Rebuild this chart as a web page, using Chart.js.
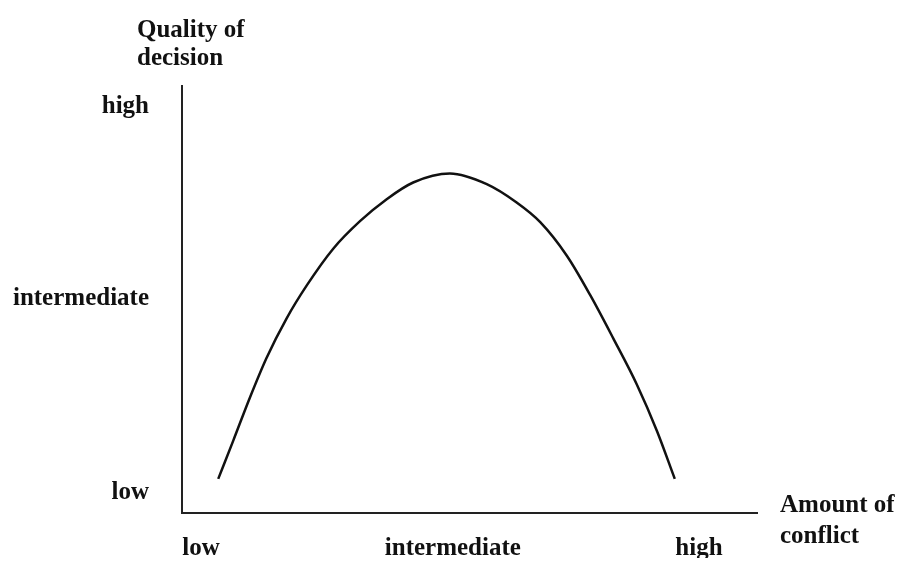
<!DOCTYPE html>
<html>
<head>
<meta charset="utf-8">
<title>Quality of decision vs amount of conflict</title>
<script src="https://cdn.jsdelivr.net/npm/chart.js@4/dist/chart.umd.min.js"></script>
<style>
  html, body { margin: 0; padding: 0; background: #fff; }
  #wrap { width: 903px; height: 561px; position: relative; }
</style>
</head>
<body>
<div id="wrap"><canvas id="chartConflict"></canvas></div>
<script>
// curve (0-100 scale on both axes)
const conflictX = [6.3, 8.9, 11.8, 14.7, 18.2, 21.7, 26.3, 31.0, 35.6, 40.2, 46.6, 53.0, 58.2, 62.3, 66.9, 71.0, 75.0, 79.1, 82.6, 85.7];
const qualityY = [8.0, 16.9, 27.0, 36.3, 45.6, 53.3, 61.9, 68.4, 73.5, 77.4, 79.5, 77.0, 72.7, 68.1, 60.3, 51.0, 40.9, 30.1, 19.2, 8.0];

const xTickValues = [3.3, 47.1, 89.9];
const xTickLabels = ["low", "intermediate", "high"];
const yTickValues = [4.7, 50.2, 95.3];
const yTickLabels = ["low", "intermediate", "high"];

const yTitle = ["Quality of", "decision"];
const xTitle = ["Amount of", "conflict"];

const FONT = "Liberation Serif";

(function () {
  const points = conflictX.map((x, i) => ({ x: x, y: qualityY[i] }));

  function fixedTicks(values) {
    return (scale) => {
      scale.ticks = values.map((v) => ({ value: v }));
    };
  }

  function labelFor(values, labels) {
    return (v) => {
      const idx = values.indexOf(v);
      return idx >= 0 ? labels[idx] : "";
    };
  }

  // axis titles sit outside the plot, drawn as text after the chart
  const axisTitles = {
    id: "axisTitles",
    afterDraw(chart) {
      const ctx = chart.ctx;
      ctx.save();
      ctx.font = "bold 25px '" + FONT + "'";
      ctx.fillStyle = "#111";
      ctx.textAlign = "left";
      ctx.textBaseline = "alphabetic";
      ctx.fillText(yTitle[0], 137, 37);
      ctx.fillText(yTitle[1], 137, 65);
      ctx.fillText(xTitle[0], 780, 512);
      ctx.fillText(xTitle[1], 780, 543);
      ctx.restore();
    },
  };

  new Chart(document.getElementById("chartConflict"), {
    type: "scatter",
    data: {
      datasets: [
        {
          data: points,
          showLine: true,
          borderColor: "#111",
          borderWidth: 2.5,
          pointRadius: 0,
          cubicInterpolationMode: "monotone",
          fill: false,
        },
      ],
    },
    options: {
      responsive: true,
      maintainAspectRatio: false,
      animation: false,
      layout: { padding: { top: 86, right: 146, left: 0, bottom: 0 } },
      plugins: { legend: { display: false }, tooltip: { enabled: false } },
      scales: {
        x: {
          type: "linear",
          min: 0,
          max: 100,
          afterBuildTicks: fixedTicks(xTickValues),
          afterFit: (s) => { s.height = 45; },
          grid: { display: false, drawTicks: false },
          border: { display: true, color: "#222", width: 2 },
          ticks: {
            autoSkip: false,
            maxRotation: 0,
            padding: 21,
            color: "#111",
            font: { family: FONT, size: 25, weight: "bold" },
            callback: labelFor(xTickValues, xTickLabels),
          },
        },
        y: {
          type: "linear",
          min: 0,
          max: 100,
          afterBuildTicks: fixedTicks(yTickValues),
          afterFit: (s) => { s.width = 182; },
          grid: { display: false, drawTicks: false },
          border: { display: true, color: "#222", width: 2 },
          ticks: {
            autoSkip: false,
            padding: 33,
            color: "#111",
            font: { family: FONT, size: 25, weight: "bold" },
            callback: labelFor(yTickValues, yTickLabels),
          },
        },
      },
    },
    plugins: [axisTitles],
  });
})();
</script>
</body>
</html>
